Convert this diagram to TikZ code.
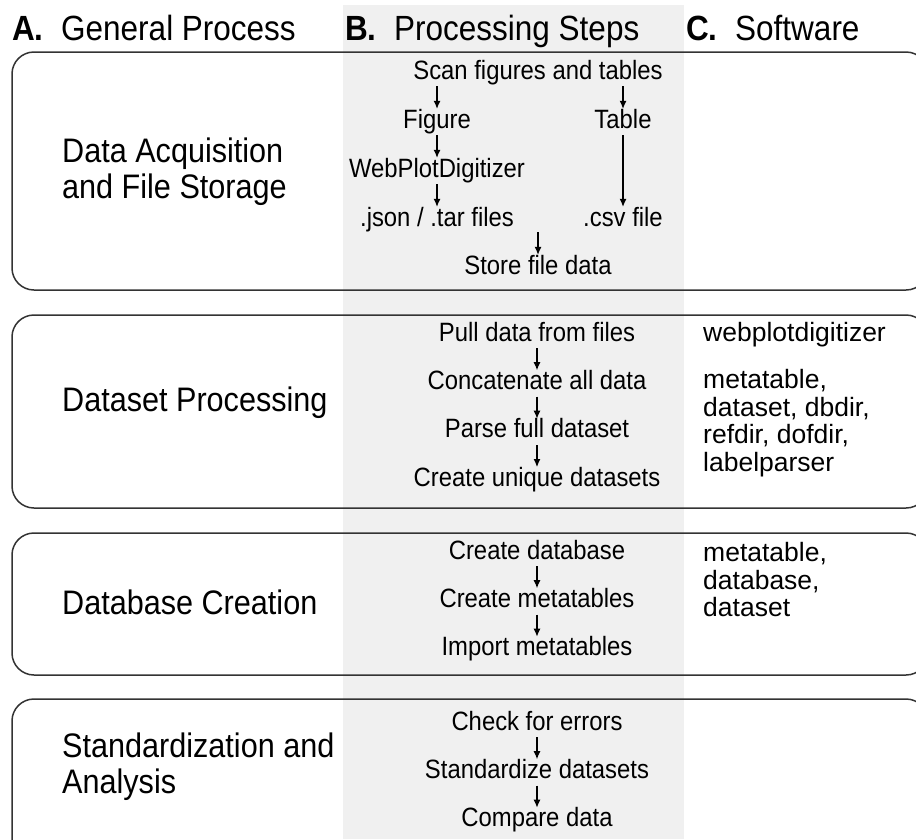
\documentclass[tikz,border=0pt]{standalone}
\usepackage{fontspec}
\setmainfont[FakeStretch=0.9]{Liberation Sans}
\newfontfamily\widefont{Liberation Sans}
\usetikzlibrary{positioning,arrows.meta}

\begin{document}
\begin{tikzpicture}[x=1pt,y=-1pt]
		\tikzstyle{head}=[anchor=base west, inner sep=0pt, font=\fontsize{35}{40}\selectfont]
		\tikzstyle{stage}=[anchor=west, align=left, inner sep=0pt, font=\fontsize{34}{36}\selectfont]
		\tikzstyle{task}=[inner sep=1pt, text height=18pt, text depth=6pt, font=\fontsize{26.5}{30}\selectfont, node distance=22pt]
		\tikzstyle{pkg}=[anchor=west, align=left, inner sep=0pt, font=\widefont\fontsize{26.5}{27.5}\selectfont]
		\tikzstyle{panel}=[draw=black!80, line width=1.5pt, rounded corners=22pt]
		\tikzstyle{connect}=[-{Latex[length=8pt,width=7pt]}, line width=1.1pt]
		
		\useasboundingbox (0,0) rectangle (916,839);
		\clip (0,0) rectangle (916,839);
		\fill[black!6] (343,5) rectangle (684,839);
		
		\draw[panel] (12,52)  rectangle (928,290);
		\draw[panel] (12,315) rectangle (928,508);
		\draw[panel] (12,533) rectangle (928,675);
		\draw[panel] (12,699) rectangle (928,870);
		
		\node[head] (ha) at (12,40)  {\textbf{A.}\enspace General Process};
		\node[head] (hb) at (345,40) {\textbf{B.}\enspace Processing Steps};
		\node[head] (hc) at (686,40) {\textbf{C.}\enspace Software};
		
		\node[stage] (acq) at (62,172) {Data Acquisition\\and File Storage};
		\node[stage] (prc) at (62,403) {Dataset Processing};
		\node[stage] (dbc) at (62,602) {Database Creation};
		\node[stage] (std) at (62,767) {Standardization and\\Analysis};
		
		\node[task] (scan)  at (538,73)  {Scan figures and tables};
		\node[task] (fig)   at (437,122) {Figure};
		\node[task] (tab)   at (623,122) {Table};
		\node[task] (wpd)   at (437,171) {WebPlotDigitizer};
		\node[task] (json)  at (437,220) {.json / .tar files};
		\node[task] (csv)   at (623,220) {.csv file};
		\node[task] (store) at (538,268) {Store file data};
		\coordinate (merge) at (538,232);
		
		\node[task] (pull)   at (537,335)      {Pull data from files};
		\node[task] (concat) [below=of pull]   {Concatenate all data};
		\node[task] (parse)  [below=of concat] {Parse full dataset};
		\node[task] (uniq)   [below=of parse]  {Create unique datasets};
		
		\node[task] (mkdb)   at (537,553)      {Create database};
		\node[task] (mkmeta) [below=of mkdb]   {Create metatables};
		\node[task] (immeta) [below=of mkmeta] {Import metatables};
		
		\node[task] (check)  at (537,724)      {Check for errors};
		\node[task] (stdz)   [below=of check]  {Standardize datasets};
		\node[task] (cmp)    [below=of stdz]   {Compare data};
		
		\node[pkg] (wpdpkg)  at (703,335) {webplotdigitizer};
		\node[pkg] (prcpkg)  at (703,423) {metatable,\\dataset, dbdir,\\refdir, dofdir,\\labelparser};
		\node[pkg] (dbcpkg)  at (703,580) {metatable,\\database,\\dataset};
		
		\draw[connect] (scan.south -| fig) -- (fig);
		\draw[connect] (scan.south -| tab) -- (tab);
		\path 
		(fig) edge [connect] (wpd)
		(wpd) edge [connect] (json)
		(tab) edge [connect] (csv)
		(merge) edge [connect] (store)
		
		(pull) edge [connect] (concat)
		(concat) edge [connect] (parse)
		(parse) edge [connect] (uniq)
		
		(mkdb) edge [connect] (mkmeta)
		(mkmeta) edge [connect] (immeta)
		
		(check) edge [connect] (stdz)
		(stdz) edge [connect] (cmp)
		;
		
\end{tikzpicture}
\end{document}
